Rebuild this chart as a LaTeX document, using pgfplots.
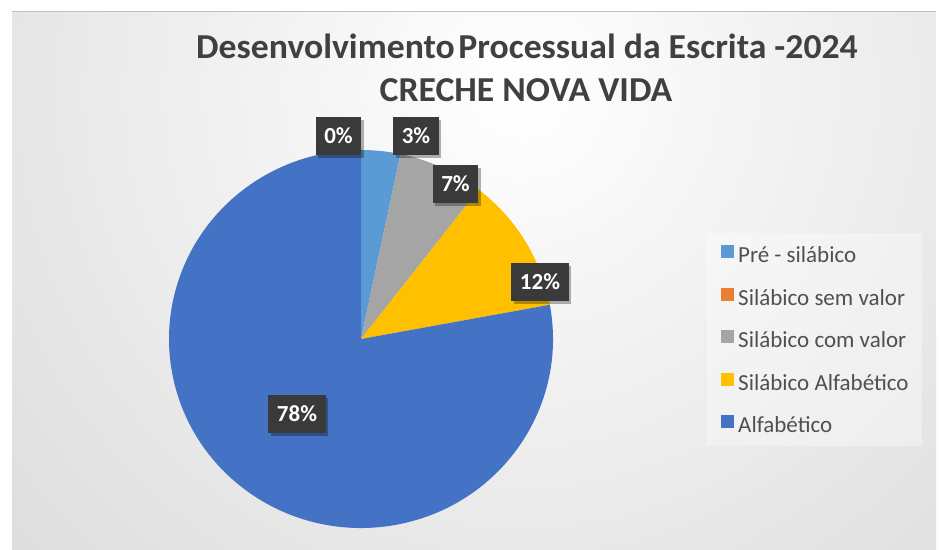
\documentclass[border=0pt]{standalone}
\usepackage{fontspec}
\setmainfont{Carlito}
\usepackage{pgfplots}
\pgfplotsset{compat=1.18}
\usetikzlibrary{shadows}
\definecolor{cPre}{HTML}{5B9BD5}
\definecolor{cSem}{HTML}{ED7D31}
\definecolor{cCom}{HTML}{A5A5A5}
\definecolor{cSA}{HTML}{FFC000}
\definecolor{cAlf}{HTML}{4472C4}
\definecolor{txt}{HTML}{404040}
\definecolor{legtxt}{HTML}{505050}
\definecolor{lbl}{HTML}{3A3A3A}
\definecolor{bgout}{HTML}{C2C2C2}
\begin{document}
\begin{tikzpicture}
% data (percent)
\def\vPre{3.3}
\def\vSem{0}
\def\vCom{7.2}
\def\vSA{11.6}
\def\vAlf{77.9}
\pgfmathsetmacro\aA{90}
\pgfmathsetmacro\aB{\aA-3.6*\vPre}
\pgfmathsetmacro\aC{\aB-3.6*\vSem}
\pgfmathsetmacro\aD{\aC-3.6*\vCom}
\pgfmathsetmacro\aE{\aD-3.6*\vSA}
\pgfmathsetmacro\aF{\aE-3.6*\vAlf}
\begin{axis}[width=939pt,height=549pt,scale only axis,
  xmin=0,xmax=939,ymin=0,ymax=549,y dir=reverse,
  hide axis, clip=false,
  legend style={at={(axis cs:721,245)},anchor=north west,draw=none,fill=none,
    inner sep=0pt,column sep=4pt,row sep=20pt,
    font=\fontsize{23}{27}\selectfont,text=legtxt,
    nodes={inner sep=0pt,text height=16pt,text depth=5pt}},
  legend cell align=left,
  legend image code/.code={\fill[#1] (0pt,-1pt) rectangle (13pt,12pt);},
]
% background
\fill[white] (axis cs:0,0) rectangle (axis cs:939,549);
\begin{scope}
\clip (axis cs:12,11) rectangle (axis cs:936,549);
\shade[inner color=white, outer color=bgout] (axis cs:520,90) circle (1250pt);
\end{scope}
\draw[black!25] (axis cs:12,11.5) -- (axis cs:936,11.5);
% legend box
\fill[white,opacity=0.35] (axis cs:707,233) rectangle (axis cs:922,446);
% pie
\fill[cPre] (axis cs:361,339) -- ++(\aA:192pt and 189pt) arc[start angle=\aA,end angle=\aB,x radius=192pt,y radius=189pt] -- cycle;
\fill[cCom] (axis cs:361,339) -- ++(\aC:192pt and 189pt) arc[start angle=\aC,end angle=\aD,x radius=192pt,y radius=189pt] -- cycle;
\fill[cSA] (axis cs:361,339) -- ++(\aD:192pt and 189pt) arc[start angle=\aD,end angle=\aE,x radius=192pt,y radius=189pt] -- cycle;
\fill[cAlf] (axis cs:361,339) -- ++(\aE:192pt and 189pt) arc[start angle=\aE,end angle=\aF,x radius=192pt,y radius=189pt] -- cycle;
% data labels
\tikzset{dl/.style={fill=lbl,text=white,font=\bfseries\fontsize{23}{27}\selectfont,
  minimum height=38pt,inner xsep=8.5pt,inner ysep=0pt,text height=15pt,text depth=0pt,
  drop shadow={shadow xshift=2.5pt,shadow yshift=-2.5pt,opacity=0.3,fill=black}}}
\node[dl] at (axis cs:338.5,136) {0\%};
\node[dl] at (axis cs:416,136) {3\%};
\node[dl] at (axis cs:455.5,184) {7\%};
\node[dl] at (axis cs:540,282) {12\%};
\node[dl] at (axis cs:297,414) {78\%};
% title
\node[text=txt,font=\bfseries\fontsize{35}{42}\selectfont,anchor=base,xscale=1.02,inner sep=0pt] at (axis cs:527,58.3) {Desenvolvimento\hspace{0.1em}Processual da Escrita -2024};
\node[text=txt,font=\bfseries\fontsize{35}{42}\selectfont,anchor=base,xscale=1.02,inner sep=0pt] at (axis cs:526,101.7) {CRECHE NOVA VIDA};
% legend
\addlegendimage{fill=cPre,draw=none}
\addlegendentry{Pré - silábico}
\addlegendimage{fill=cSem,draw=none}
\addlegendentry{Silábico sem valor}
\addlegendimage{fill=cCom,draw=none}
\addlegendentry{Silábico com valor}
\addlegendimage{fill=cSA,draw=none}
\addlegendentry{Silábico Alfabético}
\addlegendimage{fill=cAlf,draw=none}
\addlegendentry{Alfabético}
\end{axis}
\end{tikzpicture}
\end{document}
